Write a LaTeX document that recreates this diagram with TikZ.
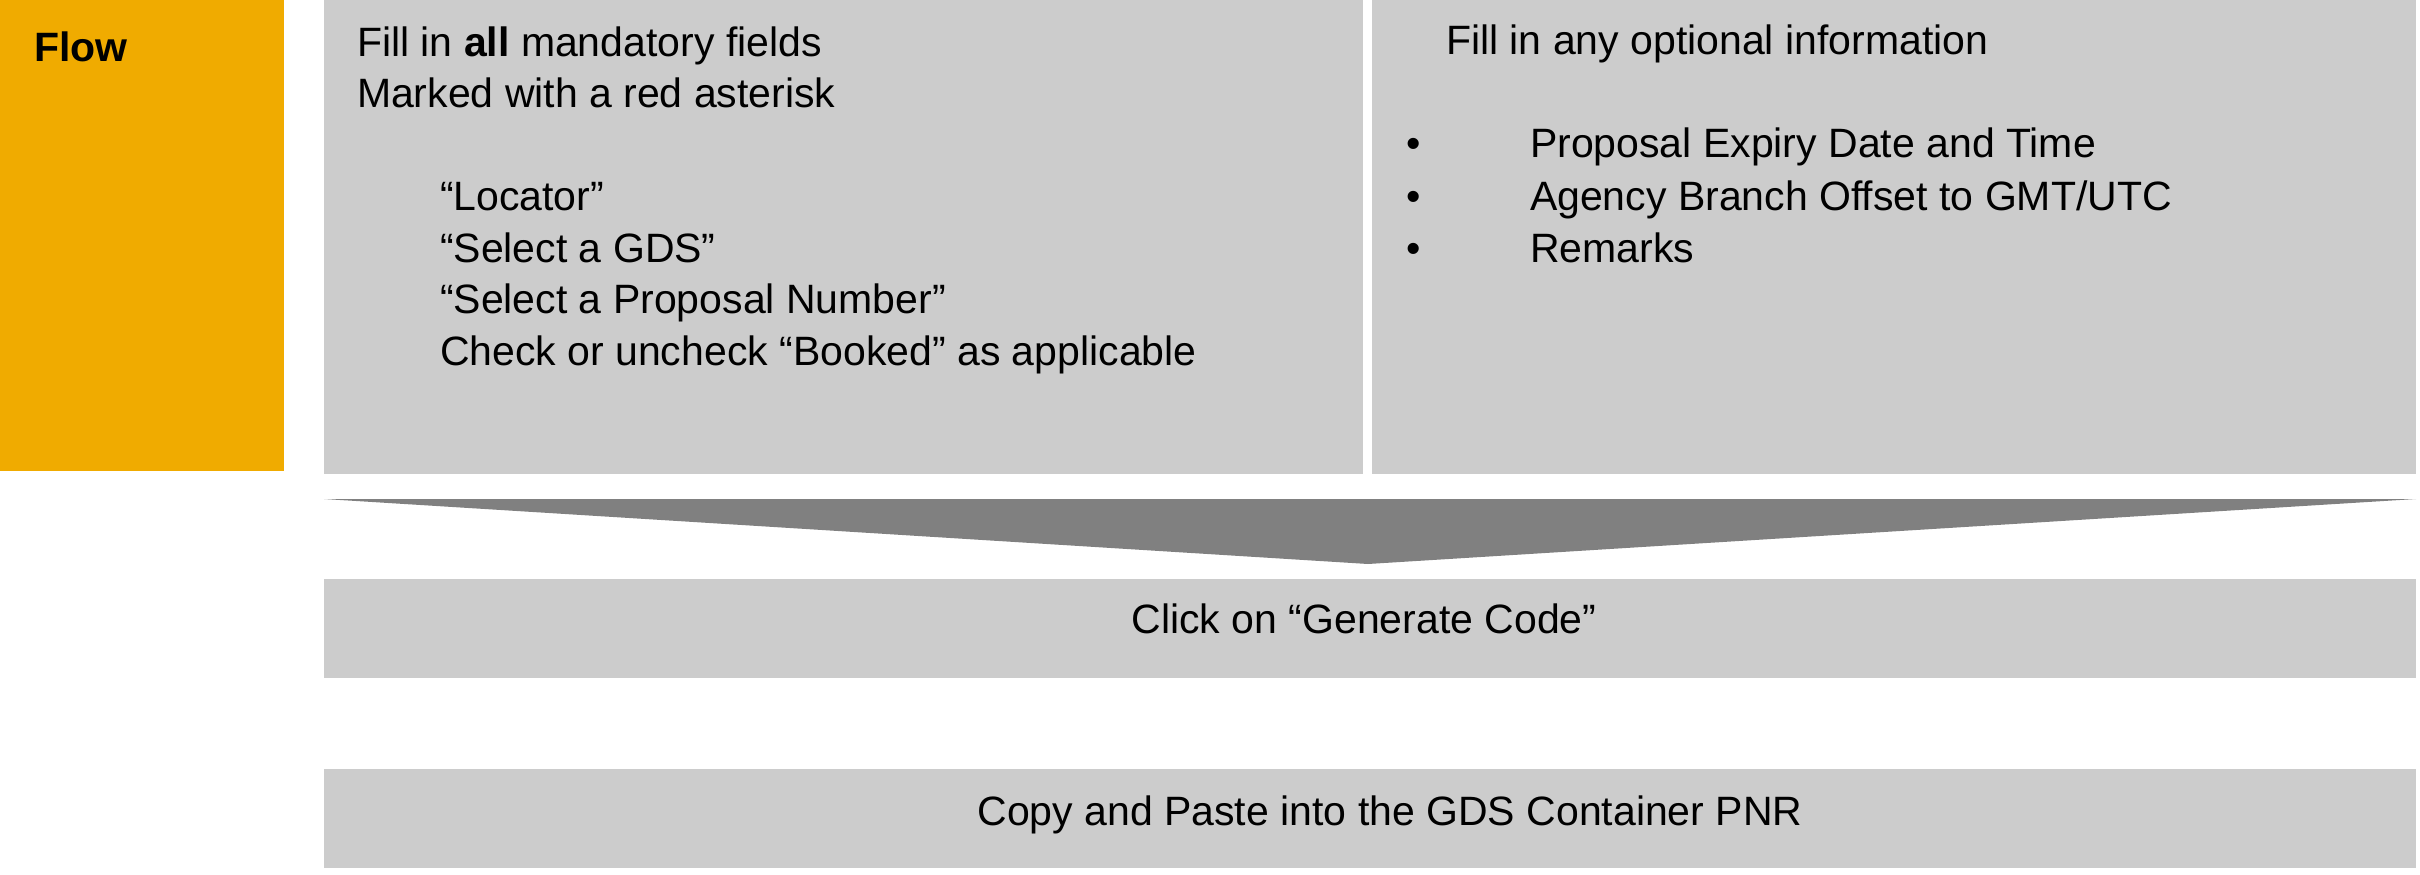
\documentclass[tikz,border=0pt]{standalone}
\usepackage{fontspec}
\setmainfont{Liberation Sans}
\definecolor{sapgold}{HTML}{F0AB00}
\definecolor{boxgray}{HTML}{CCCCCC}
\definecolor{arrowgray}{HTML}{808080}
\begin{document}
\begin{tikzpicture}[x=1pt,y=-1pt,
  panel/.style={fill=boxgray, draw=none, inner sep=0pt, outer sep=0pt, anchor=north west},
  txt/.style={inner sep=0pt, outer sep=0pt, anchor=base west, font=\fontsize{41}{49}\selectfont},
  ctxt/.style={inner sep=0pt, outer sep=0pt, anchor=base, font=\fontsize{41}{49}\selectfont}]
\useasboundingbox (0,0) rectangle (2420,875);
\fill[white] (0,0) rectangle (2420,875);
% boxes
\node[panel, fill=sapgold, minimum width=284pt, minimum height=471pt] (flowbox) at (0,0) {};
\node[panel, minimum width=1039pt, minimum height=474pt] (mandbox) at (324,0) {};
\node[panel, minimum width=1044pt, minimum height=474pt] (optbox) at (1372,0) {};
\node[panel, minimum width=2092pt, minimum height=99pt] (genbox) at (324,579) {};
\node[panel, minimum width=2092pt, minimum height=99pt] (copybox) at (324,769) {};
% chevron arrow
\coordinate (arrL) at (324,499);
\coordinate (arrR) at (2416,499);
\coordinate (arrT) at (1368,564);
\fill[arrowgray] (arrL) -- (arrR) -- (arrT) -- cycle;
% texts
\node[txt, font=\fontsize{41}{49}\selectfont\bfseries] (flowlbl) at (34,62) {Flow};
\node[txt] (m1) at (357,57) {Fill in \textbf{all} mandatory fields};
\node[txt] (m2) at (357,107) {Marked with a red asterisk};
\node[txt] (m3) at (440,210) {“Locator”};
\node[txt] (m4) at (440,262) {“Select a GDS”};
\node[txt] (m5) at (440,313) {“Select a Proposal Number”};
\node[txt] (m6) at (440,365) {Check or uncheck “Booked” as applicable};
\node[txt] (o1) at (1446,55) {Fill in any optional information};
\node[ctxt] (b1) at (1414,157) {\textbullet};
\node[ctxt] (b2) at (1414,210) {\textbullet};
\node[ctxt] (b3) at (1414,262) {\textbullet};
\node[txt] (o2) at (1530,157) {Proposal Expiry Date and Time};
\node[txt] (o3) at (1530,210) {Agency Branch Offset to GMT/UTC};
\node[txt] (o4) at (1530,262) {Remarks};
\node[ctxt] (gentxt) at (1364,633) {Click on “Generate Code”};
\node[ctxt] (copytxt) at (1390,825) {Copy and Paste into the GDS Container PNR};
\end{tikzpicture}
\end{document}
